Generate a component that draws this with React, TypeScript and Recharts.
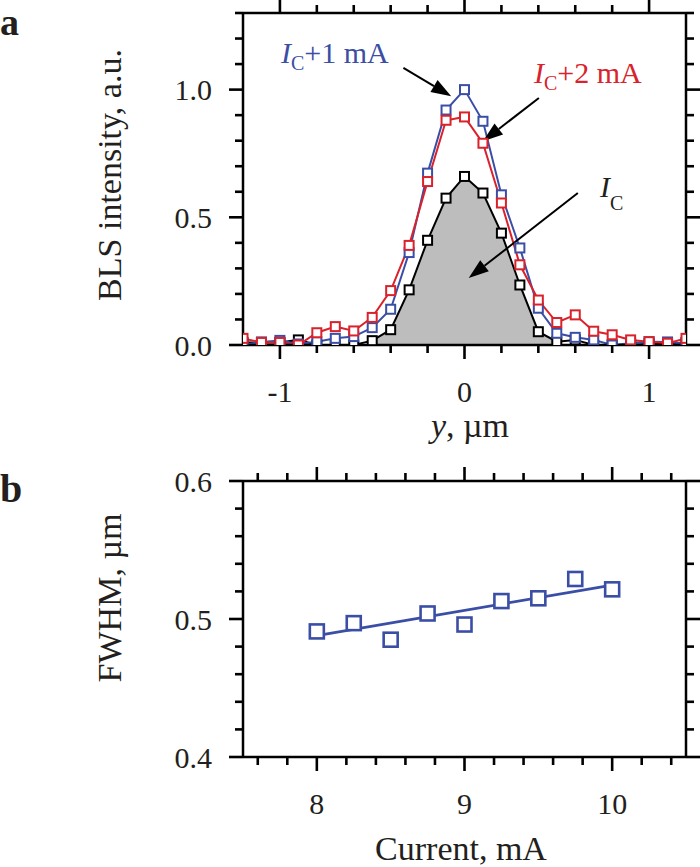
import React from "react";
import {
  ComposedChart,
  Line,
  Area,
  Scatter,
  XAxis,
  YAxis,
  ReferenceLine,
} from "recharts";

// ---- panel a: BLS intensity profiles ----
const positions = [
  -1.2, -1.1, -1.0, -0.9, -0.8, -0.7, -0.6, -0.5, -0.4, -0.3, -0.2, -0.1, 0,
  0.1, 0.2, 0.3, 0.4, 0.5, 0.6, 0.7, 0.8, 0.9, 1.0, 1.1, 1.2,
];
// I_C + 1 mA
const blueValues = [
  0.0, 0.012, 0.018, 0.004, 0.013, 0.026, 0.033, 0.068, 0.14, 0.362, 0.673,
  0.92, 1.0, 0.876, 0.588, 0.38, 0.144, 0.046, 0.03, 0.02, 0.0, 0.007, 0.013,
  0.012, 0.005,
];
// I_C + 2 mA
const redValues = [
  0.026, 0.01, 0.01, 0.0, 0.048, 0.072, 0.055, 0.108, 0.213, 0.39, 0.64, 0.88,
  0.893, 0.79, 0.556, 0.314, 0.176, 0.088, 0.118, 0.054, 0.04, 0.02, 0.013,
  0.007, 0.026,
];
// I_C
const blackValues = [
  0.01, 0.01, 0.01, 0.02, 0.0, 0.0, 0.0, 0.017, 0.06, 0.216, 0.41, 0.575, 0.66,
  0.595, 0.438, 0.235, 0.052, 0.013, 0.02, 0.0, 0.0, 0.0, 0.005, 0.005, 0.01,
];
const posTicks = [-1, -0.8, -0.6, -0.4, -0.2, 0, 0.2, 0.4, 0.6, 0.8, 1];
const posLabels: Record<string, string> = { "-1": "-1", "0": "0", "1": "1" };
const intTicks = [0, 0.1, 0.2, 0.3, 0.4, 0.5, 0.6, 0.7, 0.8, 0.9, 1.0, 1.1, 1.2, 1.3];
const intLabels: Record<string, string> = { "0": "0.0", "0.5": "0.5", "1": "1.0" };

// ---- panel b: FWHM vs current ----
const currents = [8, 8.25, 8.5, 8.75, 9, 9.25, 9.5, 9.75, 10];
const fwhmValues = [0.491, 0.497, 0.485, 0.504, 0.496, 0.513, 0.515, 0.529, 0.5215];
const fitCurrents = [8, 10];
const fitValues = [0.488, 0.5245];
const curTicks = [7.6, 7.8, 8, 8.2, 8.4, 8.6, 8.8, 9, 9.2, 9.4, 9.6, 9.8, 10, 10.2, 10.4];
const curLabels: Record<string, string> = { "8": "8", "9": "9", "10": "10" };
const fwhmTicks = [0.4, 0.42, 0.44, 0.46, 0.48, 0.5, 0.52, 0.54, 0.56, 0.58, 0.6];
const fwhmLabels: Record<string, string> = { "0.4": "0.4", "0.5": "0.5", "0.6": "0.6" };

const BLUE = "#3b4ea6";
const RED = "#d9222b";
const FONT = "'Liberation Serif', 'Times New Roman', serif";
const INK = "#231f20";

const profileRows = positions.map((p, i) => ({
  pos: p,
  blue: blueValues[i],
  red: redValues[i],
  black: blackValues[i],
  fill: Math.abs(p) <= 0.5 + 1e-9 ? blackValues[i] : null,
}));
const fwhmRows = currents.map((c, i) => ({ current: c, fwhm: fwhmValues[i] }));
const fitRows = fitCurrents.map((c, i) => ({ current: c, fwhm: fitValues[i] }));

const key = (v: number) => String(Math.round(v * 1000) / 1000);

// tick renderer: outward tick on this side and on the opposite side of the box,
// plus the label for major ticks. span = distance to the opposite border.
function makeTick(side: "bottom" | "left", labels: Record<string, string>, span: number) {
  return (props: any) => {
    const { x, y, payload } = props;
    const label = labels[key(payload.value)];
    const len = label !== undefined ? 14 : 8;
    if (side === "bottom") {
      const top = y - span;
      return (
        <g stroke="#000" strokeWidth={2.6}>
          <line x1={x} x2={x} y1={y} y2={y + len} />
          <line x1={x} x2={x} y1={top} y2={top - len} />
          {label !== undefined && (
            <text x={x} y={y + 57} textAnchor="middle" stroke="none" fill={INK} fontSize={30} fontFamily={FONT}>
              {label}
            </text>
          )}
        </g>
      );
    }
    const right = x + span;
    return (
      <g stroke="#000" strokeWidth={2.6}>
        <line x1={x} x2={x - len} y1={y} y2={y} />
        <line x1={right} x2={right + len} y1={y} y2={y} />
        {label !== undefined && (
          <text x={x - 31} y={y} dy="0.35em" textAnchor="end" stroke="none" fill={INK} fontSize={30} fontFamily={FONT}>
            {label}
          </text>
        )}
      </g>
    );
  };
}

const squareDot = (color: string, size: number) => (props: any) => {
  const { cx, cy, index } = props;
  if (cx == null || cy == null) return <g key={`n-${index}`} />;
  return (
    <rect
      key={`d-${index}`}
      x={cx - size / 2}
      y={cy - size / 2}
      width={size}
      height={size}
      fill="#fff"
      stroke={color}
      strokeWidth={2}
    />
  );
};

const ArrowShape = (props: any) => {
  const { x1, y1, x2, y2 } = props;
  if ([x1, y1, x2, y2].some((v) => v == null || isNaN(v))) return <g />;
  const ang = Math.atan2(y2 - y1, x2 - x1);
  const headLen = 20;
  const headW = 7;
  const bx = x2 - headLen * Math.cos(ang);
  const by = y2 - headLen * Math.sin(ang);
  const px = -Math.sin(ang) * headW;
  const py = Math.cos(ang) * headW;
  return (
    <g>
      <line x1={x1} y1={y1} x2={bx} y2={by} stroke="#000" strokeWidth={2} />
      <polygon points={`${x2},${y2} ${bx + px},${by + py} ${bx - px},${by - py}`} fill="#000" />
    </g>
  );
};

// arrow endpoints in data coordinates (tail -> head)
const arrowBlue = [{ x: -0.331, y: 1.085 }, { x: -0.072, y: 0.974 }];
const arrowRed = [{ x: 0.403, y: 0.967 }, { x: 0.1, y: 0.798 }];
const arrowBlack = [{ x: 0.614, y: 0.595 }, { x: 0.023, y: 0.262 }];

const axisLine = { stroke: "#000", strokeWidth: 2.5 };

export default function App() {
  return (
    <div style={{ position: "absolute", left: 0, top: 0, width: 700, height: 867, background: "#fff" }}>
      <div style={{ position: "absolute", left: 0, top: 0 }}>
        <ComposedChart width={700} height={460} data={profileRows} margin={{ top: 0, right: 0, bottom: 0, left: 0 }}>
          <XAxis
            dataKey="pos"
            type="number"
            domain={[-1.2, 1.2]}
            ticks={posTicks}
            interval={0}
            height={115}
            tickLine={false}
            tickSize={0}
            tickMargin={0}
            axisLine={axisLine}
            tick={makeTick("bottom", posLabels, 332)}
            allowDataOverflow
          />
          <XAxis
            xAxisId="t"
            orientation="top"
            dataKey="pos"
            type="number"
            domain={[-1.2, 1.2]}
            height={13}
            tickLine={false}
            axisLine={axisLine}
            tick={false}
          />
          <YAxis
            type="number"
            domain={[0, 1.3]}
            ticks={intTicks}
            interval={0}
            width={243}
            tickLine={false}
            tickSize={0}
            tickMargin={0}
            axisLine={axisLine}
            tick={makeTick("left", intLabels, 443)}
            allowDataOverflow
          />
          <YAxis
            yAxisId="r"
            orientation="right"
            type="number"
            domain={[0, 1.3]}
            width={14}
            tickLine={false}
            axisLine={axisLine}
            tick={false}
          />
          <Area
            dataKey="fill"
            type="linear"
            fill="#bdbdbd"
            fillOpacity={1}
            stroke="none"
            isAnimationActive={false}
            activeDot={false}
          />
          <Line
            dataKey="black"
            type="linear"
            stroke="#000"
            strokeWidth={2}
            dot={squareDot("#000", 9)}
            activeDot={false}
            isAnimationActive={false}
          />
          <Line
            dataKey="blue"
            type="linear"
            stroke={BLUE}
            strokeWidth={2}
            dot={squareDot(BLUE, 9)}
            activeDot={false}
            isAnimationActive={false}
          />
          <Line
            dataKey="red"
            type="linear"
            stroke={RED}
            strokeWidth={2}
            dot={squareDot(RED, 9)}
            activeDot={false}
            isAnimationActive={false}
          />
          <ReferenceLine segment={arrowBlue} shape={ArrowShape} ifOverflow="visible" />
          <ReferenceLine segment={arrowRed} shape={ArrowShape} ifOverflow="visible" />
          <ReferenceLine segment={arrowBlack} shape={ArrowShape} ifOverflow="visible" />
        </ComposedChart>
      </div>

      <div style={{ position: "absolute", left: 0, top: 460 }}>
        <ComposedChart width={700} height={407} margin={{ top: 0, right: 0, bottom: 0, left: 0 }}>
          <XAxis
            dataKey="current"
            type="number"
            domain={[7.5, 10.5]}
            ticks={curTicks}
            interval={0}
            height={110}
            tickLine={false}
            tickSize={0}
            tickMargin={0}
            axisLine={axisLine}
            tick={makeTick("bottom", curLabels, 276)}
          />
          <XAxis
            xAxisId="t"
            orientation="top"
            dataKey="current"
            type="number"
            domain={[7.5, 10.5]}
            height={21}
            tickLine={false}
            axisLine={axisLine}
            tick={false}
          />
          <YAxis
            type="number"
            domain={[0.4, 0.6]}
            ticks={fwhmTicks}
            interval={0}
            width={243}
            tickLine={false}
            tickSize={0}
            tickMargin={0}
            axisLine={axisLine}
            tick={makeTick("left", fwhmLabels, 443)}
          />
          <YAxis
            yAxisId="r"
            orientation="right"
            type="number"
            domain={[0.4, 0.6]}
            width={14}
            tickLine={false}
            axisLine={axisLine}
            tick={false}
          />
          <Line
            data={fitRows}
            dataKey="fwhm"
            type="linear"
            stroke={BLUE}
            strokeWidth={2.7}
            dot={false}
            activeDot={false}
            isAnimationActive={false}
          />
          <Scatter
            data={fwhmRows}
            dataKey="fwhm"
            isAnimationActive={false}
            shape={(p: any) => (
              <rect x={p.cx - 7} y={p.cy - 7} width={14} height={14} fill="#fff" stroke={BLUE} strokeWidth={2.6} />
            )}
          />
        </ComposedChart>
      </div>

      <svg
        width={700}
        height={867}
        style={{ position: "absolute", left: 0, top: 0, pointerEvents: "none" }}
        fontFamily={FONT}
        fill={INK}
      >
        <text x={0} y={35} fontSize={38} fontWeight="bold">a</text>
        <text x={0} y={502} fontSize={40} fontWeight="bold">b</text>

        <text transform="translate(121,175) rotate(-90)" textAnchor="middle" fontSize={34}>
          BLS intensity, a.u.
        </text>
        <text x={470} y={437} textAnchor="middle" fontSize={34}>
          <tspan fontStyle="italic">y</tspan>, µm
        </text>
        <text transform="translate(121,598) rotate(-90)" textAnchor="middle" fontSize={34}>
          FWHM, µm
        </text>
        <text x={461} y={860} textAnchor="middle" fontSize={34}>
          Current, mA
        </text>

        <text x={281} y={63} fontSize={30} fill={BLUE}>
          <tspan fontStyle="italic">I</tspan>
          <tspan fontSize={20} dy={7}>C</tspan>
          <tspan dy={-7}>+1 mA</tspan>
        </text>
        <text x={534} y={83} fontSize={30} fill={RED}>
          <tspan fontStyle="italic">I</tspan>
          <tspan fontSize={20} dy={7}>C</tspan>
          <tspan dy={-7}>+2 mA</tspan>
        </text>
        <text x={600} y={197} fontSize={30}>
          <tspan fontStyle="italic">I</tspan>
          <tspan fontSize={20} dy={13}>C</tspan>
        </text>
      </svg>
    </div>
  );
}
